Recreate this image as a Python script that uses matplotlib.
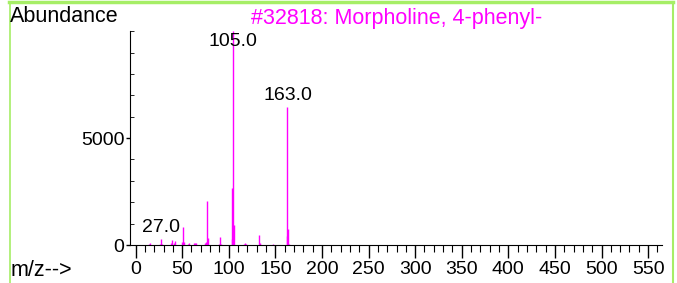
import matplotlib.pyplot as plt
from matplotlib.lines import Line2D

plt.rcParams['font.family'] = ['Liberation Sans', 'DejaVu Sans']

# spectrum: m/z and abundance
mz = [14, 15, 26, 27, 28, 38, 39, 41, 42, 50, 51, 52, 56, 57, 63, 64, 65,
      74, 75, 76, 77, 78, 89, 91, 92, 103, 104, 105, 106, 116, 117, 118,
      132, 133, 134, 147, 162, 163, 164, 165]
abund = [50, 80, 60, 280, 60, 100, 230, 100, 200, 140, 855, 140, 60, 80,
         90, 100, 110, 60, 80, 150, 2040, 330, 60, 390, 60, 300, 2650, 9999,
         930, 60, 90, 70, 460, 100, 50, 40, 430, 6440, 750, 60]
labelled = [27, 105, 163]
title = "#32818: Morpholine, 4-phenyl-"
magenta = '#ff00ff'

fig = plt.figure(figsize=(6.77, 2.83), dpi=100)
ax = fig.add_axes([0.192, 0.134, 0.786, 0.756])

ax.vlines(mz, 0, abund, color=magenta, lw=1.0)

for m in labelled:
    h = abund[mz.index(m)]
    ax.text(m, min(h + 550, 9530), '%.1f' % m, ha='center', va='center',
            fontsize=14, color='black')

ax.set_xlim(-6, 565)
ax.set_ylim(0, 10000)
ax.set_xticks(range(0, 551, 50))
ax.set_xticks(range(0, 561, 10), minor=True)
ax.set_yticks([0, 5000])
ax.set_yticks(range(0, 10001, 1000), minor=True)
ax.spines['top'].set_visible(False)
ax.spines['right'].set_visible(False)
ax.tick_params(axis='x', which='major', length=9, width=1, labelsize=14, pad=2.5)
ax.tick_params(axis='x', which='minor', length=5, width=0.8)
ax.tick_params(axis='y', which='major', length=3, width=1, labelsize=14, pad=1)
ax.tick_params(axis='y', which='minor', direction='in', length=3, width=0.6)

fig.text(0.015, 0.943, 'Abundance', fontsize=15.5, va='center')
fig.text(0.371, 0.936, title, fontsize=15.5, color=magenta, va='center')
fig.text(0.015, 0.045, 'm/z-->', fontsize=15.5, va='center')

# green frame
green = '#a6ee66'
fig.add_artist(Line2D([0.013, 0.994], [0.993, 0.993], color=green, lw=2.5))
fig.add_artist(Line2D([0.0145, 0.0145], [0, 0.993], color=green, lw=1.2))
fig.add_artist(Line2D([0.994, 0.994], [0, 0.993], color=green, lw=1.5))

fig.savefig('out.png', dpi=100)
